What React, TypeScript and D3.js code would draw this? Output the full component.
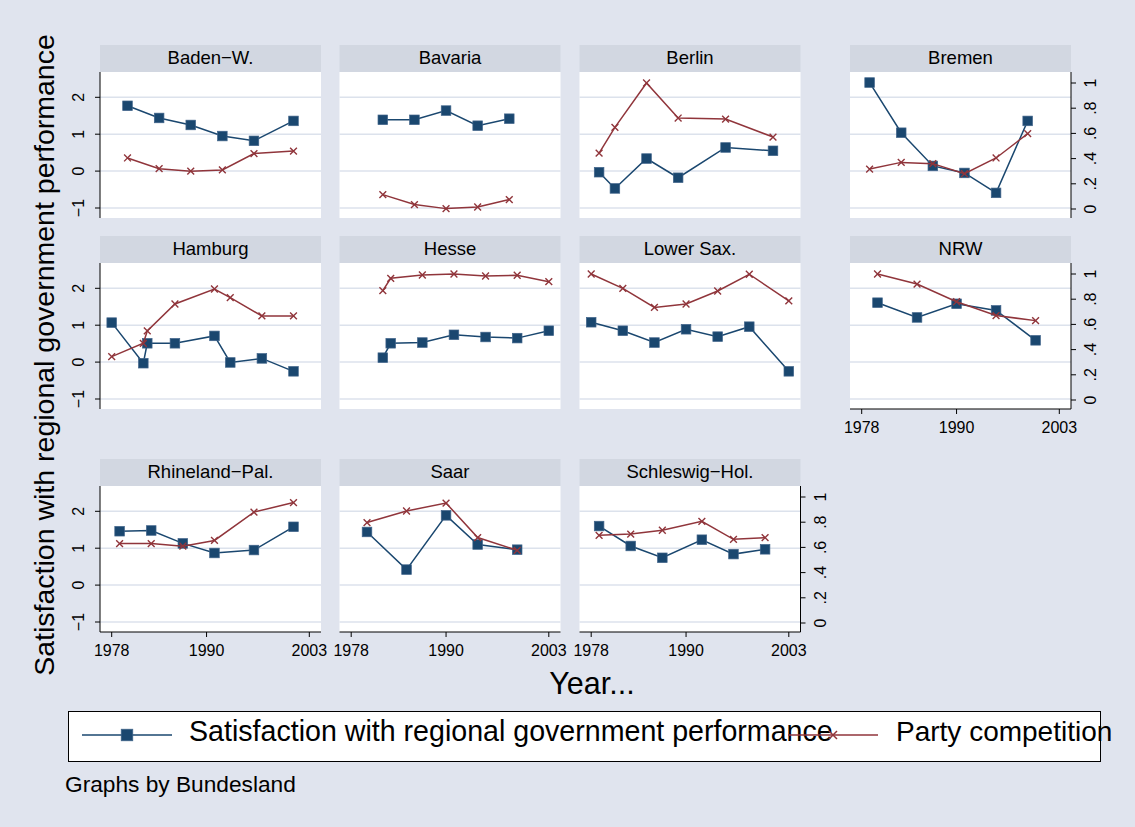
import React from "react";
import * as d3 from "d3";

// Panel labels (one per Bundesland), in plotting order
const states = [
  "Baden−W.", "Bavaria", "Berlin", "Bremen",
  "Hamburg", "Hesse", "Lower Sax.", "NRW",
  "Rhineland−Pal.", "Saar", "Schleswig−Hol.",
];

// Election years per state
const electionYears = [
  [1980, 1984, 1988, 1992, 1996, 2001],
  [1982, 1986, 1990, 1994, 1998],
  [1979, 1981, 1985, 1989, 1995, 2001],
  [1979, 1983, 1987, 1991, 1995, 1999],
  [1978, 1982, 1982.5, 1986, 1991, 1993, 1997, 2001],
  [1982, 1983, 1987, 1991, 1995, 1999, 2003],
  [1978, 1982, 1986, 1990, 1994, 1998, 2003],
  [1980, 1985, 1990, 1995, 2000],
  [1979, 1983, 1987, 1991, 1996, 2001],
  [1980, 1985, 1990, 1994, 1999],
  [1979, 1983, 1987, 1992, 1996, 2000],
];

// Satisfaction with regional government performance (left axis)
const satisfaction = [
  [1.77, 1.44, 1.25, 0.95, 0.82, 1.36],
  [1.39, 1.39, 1.64, 1.23, 1.42],
  [-0.03, -0.47, 0.34, -0.18, 0.64, 0.55],
  [2.4, 1.04, 0.14, -0.05, -0.59, 1.36],
  [1.07, -0.03, 0.51, 0.51, 0.71, -0.01, 0.1, -0.25],
  [0.12, 0.51, 0.53, 0.74, 0.68, 0.65, 0.85],
  [1.08, 0.85, 0.53, 0.89, 0.69, 0.96, -0.25],
  [1.61, 1.21, 1.58, 1.4, 0.59],
  [1.46, 1.48, 1.13, 0.87, 0.95, 1.58],
  [1.44, 0.42, 1.89, 1.1, 0.96],
  [1.6, 1.06, 0.74, 1.23, 0.84, 0.97],
];

// Party competition (right axis, 0..1)
const competition = [
  [0.405, 0.32, 0.3, 0.31, 0.44, 0.46],
  [0.114, 0.035, 0.003, 0.016, 0.075],
  [0.444, 0.648, 1.0, 0.722, 0.714, 0.571],
  [0.317, 0.37, 0.36, 0.28, 0.405, 0.598],
  [0.344, 0.45, 0.548, 0.762, 0.881, 0.812, 0.667, 0.667],
  [0.868, 0.966, 0.992, 1.0, 0.984, 0.99, 0.939],
  [1.0, 0.886, 0.735, 0.762, 0.865, 0.998, 0.786],
  [1.0, 0.92, 0.78, 0.67, 0.63],
  [0.63, 0.63, 0.61, 0.655, 0.88, 0.956],
  [0.797, 0.889, 0.952, 0.678, 0.577],
  [0.696, 0.706, 0.736, 0.807, 0.664, 0.678],
];

const satTicks = [-1, 0, 1, 2];
const compTicks = [0, 0.2, 0.4, 0.6, 0.8, 1];
const yearTicks = [1978, 1990, 2003];

const W = 1135;
const H = 827;
const FONT = "'Liberation Sans', Arial, Helvetica, sans-serif";
const BG = "#E0E4EE";
const STRIP = "#D2D7E1";
const GRID = "#DCE2EC";
const NAVY = "#1A476F";
const MAROON = "#90353B";

const colX = [100, 339.5, 579.5, 850];
const rowTop = [45, 236, 459];
const PW = 221;
const HEAD = 27;
const PH = 146;
const perRow = [4, 4, 3];

const fmtComp = (v: number) => (v === 0 ? "0" : v === 1 ? "1" : d3.format(".1f")(v).replace(/^0/, ""));

function Panel({ idx }: { idx: number }) {
  const row = idx < 4 ? 0 : idx < 8 ? 1 : 2;
  const col = idx - (row === 0 ? 0 : row === 1 ? 4 : 8);
  const x0 = colX[col];
  const top = rowTop[row];
  const pTop = top + HEAD;
  const pBot = pTop + PH;

  const x = d3.scaleLinear().domain([1978, 2003]).range([x0 + 11.7, x0 + 209.3]);
  const ySat = d3.scaleLinear().domain([-1, 2]).range([pTop + 136, pTop + 25.3]);
  const yComp = d3.scaleLinear().domain([0, 1]).range([pTop + 137, pTop + 11]);

  const yrs = electionYears[idx];
  const sat = satisfaction[idx];
  const comp = competition[idx];

  const satLine = d3.line<number>().x((_, i) => x(yrs[i])).y((d) => ySat(d))(sat) || "";
  const compLine = d3.line<number>().x((_, i) => x(yrs[i])).y((d) => yComp(d))(comp) || "";

  const hasLeft = col === 0;
  const hasRight = col === perRow[row] - 1;
  const hasBottom = row === 2 || (row === 1 && col === 3);

  return (
    <g>
      <rect x={x0} y={top} width={PW} height={HEAD} fill={STRIP} />
      <text x={x0 + PW / 2} y={top + 18.5} textAnchor="middle" fontSize={18.5} fontFamily={FONT} fill="#000">
        {states[idx]}
      </text>
      <rect x={x0} y={pTop} width={PW} height={PH} fill="#fff" />
      {satTicks.map((t) => (
        <line key={t} x1={x0} x2={x0 + PW} y1={ySat(t)} y2={ySat(t)} stroke={GRID} strokeWidth={1.5} />
      ))}

      {hasLeft && (
        <g>
          <line x1={x0} x2={x0} y1={pTop} y2={pBot} stroke="#000" strokeWidth={1} />
          {satTicks.map((t) => (
            <g key={t}>
              <line x1={x0 - 5} x2={x0} y1={ySat(t)} y2={ySat(t)} stroke="#000" strokeWidth={1} />
              <text
                transform={`translate(${x0 - 16},${ySat(t)}) rotate(-90)`}
                textAnchor="middle"
                fontSize={16}
                fontFamily={FONT}
              >
                {t < 0 ? `−${Math.abs(t)}` : t}
              </text>
            </g>
          ))}
        </g>
      )}

      {hasRight && (
        <g>
          <line x1={x0 + PW} x2={x0 + PW} y1={pTop} y2={pBot} stroke="#000" strokeWidth={1} />
          {compTicks.map((t) => (
            <g key={t}>
              <line x1={x0 + PW} x2={x0 + PW + 5} y1={yComp(t)} y2={yComp(t)} stroke="#000" strokeWidth={1} />
              <text
                transform={`translate(${x0 + PW + 25},${yComp(t)}) rotate(-90)`}
                textAnchor="middle"
                fontSize={16}
                fontFamily={FONT}
              >
                {fmtComp(t)}
              </text>
            </g>
          ))}
        </g>
      )}

      {hasBottom && (
        <g>
          <line x1={x0} x2={x0 + PW} y1={pBot} y2={pBot} stroke="#000" strokeWidth={1} />
          {yearTicks.map((t) => (
            <g key={t}>
              <line x1={x(t)} x2={x(t)} y1={pBot} y2={pBot + 5} stroke="#000" strokeWidth={1} />
              <text x={x(t)} y={pBot + 24} textAnchor="middle" fontSize={16} fontFamily={FONT}>
                {t}
              </text>
            </g>
          ))}
        </g>
      )}

      <path d={satLine} fill="none" stroke={NAVY} strokeWidth={1.5} />
      {sat.map((d, i) => (
        <rect
          key={i}
          x={x(yrs[i]) - 4.8}
          y={ySat(d) - 4.8}
          width={9.6}
          height={9.6}
          fill={NAVY}
          stroke="#40648A"
          strokeWidth={0.7}
        />
      ))}
      <path d={compLine} fill="none" stroke={MAROON} strokeWidth={1.5} />
      {comp.map((d, i) => (
        <path
          key={i}
          transform={`translate(${x(yrs[i])},${yComp(d)})`}
          d="M-3.4,-3.4L3.4,3.4M-3.4,3.4L3.4,-3.4"
          stroke={MAROON}
          strokeWidth={1.4}
        />
      ))}
    </g>
  );
}

export default function App() {
  return (
    <div style={{ position: "absolute", left: 0, top: 0 }}>
      <svg width={W} height={H} viewBox={`0 0 ${W} ${H}`} style={{ display: "block" }}>
        <rect x={0} y={0} width={W} height={H} fill={BG} />
        {states.map((_, i) => (
          <Panel key={i} idx={i} />
        ))}

        <text
          transform="translate(54,355) rotate(-90)"
          textAnchor="middle"
          fontSize={28.5}
          fontFamily={FONT}
        >
          Satisfaction with regional government performance
        </text>
        <text x={592} y={694} textAnchor="middle" fontSize={30.5} fontFamily={FONT}>
          Year...
        </text>

        {/* legend */}
        <rect x={68.5} y={711.5} width={1032} height={50} fill="#fff" stroke="#000" strokeWidth={1} />
        <line x1={82} x2={172} y1={735} y2={735} stroke={NAVY} strokeWidth={1.5} />
        <rect x={121.2} y={729.2} width={11.6} height={11.6} fill={NAVY} stroke="#40648A" strokeWidth={0.7} />
        <text x={189} y={741} fontSize={28.6} fontFamily={FONT}>
          Satisfaction with regional government performance
        </text>
        <line x1={788} x2={878} y1={735} y2={735} stroke={MAROON} strokeWidth={1.5} />
        <path transform="translate(833,735)" d="M-4,-4L4,4M-4,4L4,-4" stroke={MAROON} strokeWidth={1.5} />
        <text x={896} y={741} fontSize={28} fontFamily={FONT}>
          Party competition
        </text>

        <text x={65} y={792} fontSize={22.7} fontFamily={FONT}>
          Graphs by Bundesland
        </text>
      </svg>
    </div>
  );
}
